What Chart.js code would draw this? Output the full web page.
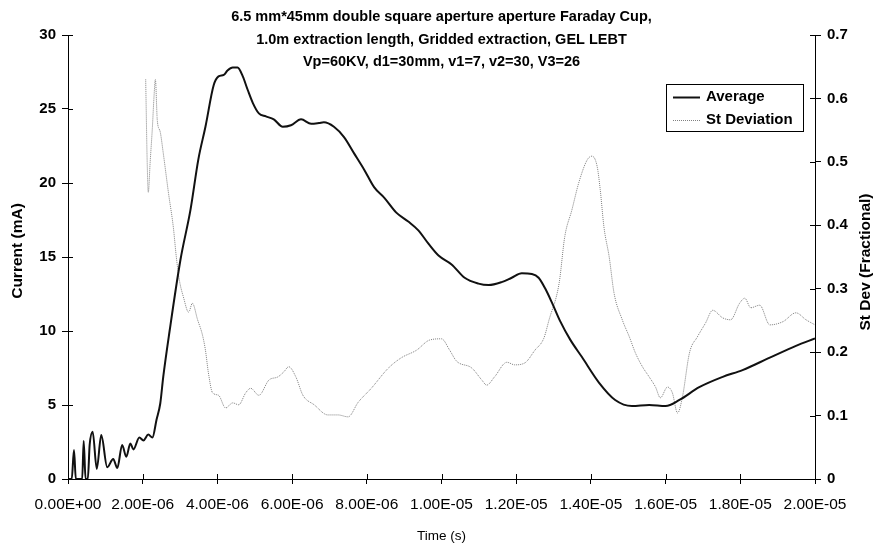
<!DOCTYPE html>
<html>
<head>
<meta charset="utf-8">
<title>Faraday Cup current</title>
<script src="https://cdn.jsdelivr.net/npm/chart.js@4.4.1/dist/chart.umd.min.js"></script>
<style>
  html, body { margin: 0; padding: 0; background: #ffffff; }
  #wrap { width: 875px; height: 544px; }
</style>
</head>
<body>
<div id="wrap"><canvas id="c" width="875" height="544"></canvas></div>
<script>
// Average current trace: time in microseconds, current in mA
const avgTimeUs = [
  0.00, 0.10, 0.16, 0.21, 0.38, 0.42, 0.47, 0.53, 0.58, 0.66, 0.77, 0.89,
  1.05, 1.21, 1.32, 1.45, 1.56, 1.67, 1.75, 1.91, 2.02, 2.15, 2.26, 2.37,
  2.47, 2.55, 2.72, 3.01, 3.28, 3.49, 3.68, 3.90, 4.03, 4.17, 4.27, 4.41,
  4.54, 4.68, 4.81, 4.95, 5.11, 5.30, 5.51, 5.75, 5.97, 6.24, 6.51, 6.72,
  6.85, 7.12, 7.39, 7.66, 7.93, 8.20, 8.47, 8.79, 9.11, 9.38, 9.65, 9.92,
  10.27, 10.62, 10.99, 11.26, 11.61, 11.88, 12.15, 12.42, 12.60, 12.77, 12.96, 13.17,
  13.45, 13.76, 14.22, 14.65, 15.10, 15.56, 16.00, 16.37, 16.90, 17.53, 18.06, 18.79,
  19.49, 20.00
];
const avgCurrent = [
  0, 0, 1.96, 0, 0, 2.57, 0, 0, 2.3, 3.2, 0.68, 2.97,
  0.8, 1.35, 0.74, 2.3, 1.5, 2.4, 2.0, 2.8, 2.6, 3.0, 2.8, 4.0,
  5.1, 6.9, 10.0, 14.8, 18.2, 21.6, 23.8, 26.6, 27.2, 27.3, 27.6, 27.8,
  27.8, 27.2, 26.3, 25.4, 24.7, 24.5, 24.3, 23.8, 23.9, 24.3, 24.0, 24.05,
  24.1, 23.8, 23.1, 22.0, 20.9, 19.7, 19.0, 18.0, 17.4, 16.8, 15.9, 15.1,
  14.5, 13.6, 13.2, 13.1, 13.3, 13.6, 13.9, 13.85, 13.6, 12.9, 11.9, 10.7,
  9.4, 8.24, 6.5, 5.34, 4.93, 5.0, 4.93, 5.34, 6.2, 6.9, 7.36, 8.2,
  9.0, 9.5
];

// Fractional standard deviation trace: time in microseconds
const sdTimeUs = [
  2.08, 2.12, 2.15, 2.20, 2.26, 2.30, 2.34, 2.39, 2.47, 2.55, 2.69, 2.82,
  2.90, 2.98, 3.09, 3.23, 3.33, 3.47, 3.60, 3.68, 3.76, 3.87, 4.03, 4.22,
  4.41, 4.57, 4.76, 4.89, 5.11, 5.38, 5.62, 5.78, 5.91, 6.10, 6.29, 6.59,
  6.96, 7.23, 7.50, 7.77, 8.12, 8.58, 8.92, 9.33, 9.68, 10.00, 10.22, 10.40,
  10.81, 11.08, 11.21, 11.42, 11.75, 11.96, 12.23, 12.50, 12.74, 12.88, 13.15, 13.30,
  13.49, 13.68, 13.90, 14.03, 14.17, 14.25, 14.35, 14.49, 14.62, 14.84, 15.03, 15.19,
  15.38, 15.56, 15.73, 15.86, 16.05, 16.18, 16.32, 16.45, 16.64, 16.85, 17.07, 17.26,
  17.53, 17.74, 17.98, 18.12, 18.28, 18.52, 18.79, 19.14, 19.49, 19.76, 20.00
];
const sdFraction = [
  0.63, 0.50, 0.452, 0.50, 0.555, 0.60, 0.63, 0.566, 0.547, 0.514, 0.451, 0.397,
  0.35, 0.314, 0.287, 0.263, 0.277, 0.251, 0.227, 0.203, 0.167, 0.136, 0.132, 0.112,
  0.12, 0.117, 0.136, 0.143, 0.132, 0.156, 0.161, 0.169, 0.177, 0.161, 0.132, 0.117,
  0.101, 0.101, 0.098, 0.121, 0.143, 0.175, 0.191, 0.203, 0.219, 0.221, 0.203, 0.186,
  0.175, 0.156, 0.148, 0.161, 0.184, 0.18, 0.183, 0.203, 0.222, 0.251, 0.309, 0.382,
  0.424, 0.468, 0.503, 0.509, 0.492, 0.456, 0.397, 0.35, 0.293, 0.251, 0.224, 0.199,
  0.177, 0.161, 0.145, 0.128, 0.145, 0.136, 0.104, 0.129, 0.199, 0.224, 0.246, 0.266,
  0.254, 0.251, 0.277, 0.285, 0.27, 0.274, 0.243, 0.248, 0.262, 0.251, 0.243
];

// Axis tick values
const timeTicks = [0, 2e-6, 4e-6, 6e-6, 8e-6, 1e-5, 1.2e-5, 1.4e-5, 1.6e-5, 1.8e-5, 2e-5];
const currentTicks = [0, 5, 10, 15, 20, 25, 30];
const sdTicks = [0, 0.1, 0.2, 0.3, 0.4, 0.5, 0.6, 0.7];

const titleLines = [
  '6.5 mm*45mm double square aperture aperture Faraday Cup,',
  '1.0m extraction length, Gridded extraction, GEL LEBT',
  'Vp=60KV, d1=30mm, v1=7, v2=30, V3=26'
];
const leftAxisTitle = 'Current (mA)';
const rightAxisTitle = 'St Dev (Fractional)';

const FONT = '"Liberation Sans", Arial, Helvetica, sans-serif';

function sciLabel(v) {
  const s = Number(v).toExponential(2);
  const parts = s.split('e');
  const sign = parts[1][0] === '-' ? '-' : '+';
  const digits = parts[1].replace(/[+-]/, '').padStart(2, '0');
  return parts[0] + 'E' + sign + digits;
}

function toPoints(tUs, vals) {
  return tUs.map((t, i) => ({ x: t * 1e-6, y: vals[i] }));
}

// Title over the top of the plot, vertical axis titles, crossing tick marks and the legend box
const decorPlugin = {
  id: 'decor',
  afterDraw(chart) {
    const ctx = chart.ctx;
    const area = chart.chartArea;
    ctx.save();

    // title
    ctx.fillStyle = '#000';
    ctx.font = 'bold 14.5px ' + FONT;
    ctx.textAlign = 'center';
    ctx.textBaseline = 'middle';
    const cx = (area.left + area.right) / 2;
    titleLines.forEach((line, i) => ctx.fillText(line, cx, 17 + i * 22.5));

    // vertical axis titles, both reading upwards
    ctx.font = 'bold 15.5px ' + FONT;
    [[leftAxisTitle, 18, 251], [rightAxisTitle, 866, 262]].forEach(([txt, x, y]) => {
      ctx.save();
      ctx.translate(x, y);
      ctx.rotate(-Math.PI / 2);
      ctx.fillText(txt, 0, 0);
      ctx.restore();
    });

    // inner halves of the tick marks
    ctx.strokeStyle = '#000';
    ctx.lineWidth = 1;
    ctx.beginPath();
    const ys = chart.scales.y, ys1 = chart.scales.y1, xs = chart.scales.x;
    ys.ticks.forEach(t => {
      const p = Math.round(ys.getPixelForValue(t.value)) + 0.5;
      ctx.moveTo(area.left, p); ctx.lineTo(area.left + 5, p);
    });
    ys1.ticks.forEach(t => {
      const p = Math.round(ys1.getPixelForValue(t.value)) + 0.5;
      ctx.moveTo(area.right, p); ctx.lineTo(area.right - 5, p);
    });
    xs.ticks.forEach(t => {
      const p = Math.round(xs.getPixelForValue(t.value)) + 0.5;
      ctx.moveTo(p, area.bottom); ctx.lineTo(p, area.bottom - 5);
    });
    ctx.stroke();

    // legend
    const lx = 666, ly = 84, lw = 137, lh = 47;
    ctx.fillStyle = '#fff';
    ctx.fillRect(lx, ly, lw, lh);
    ctx.strokeStyle = '#000';
    ctx.lineWidth = 1;
    ctx.strokeRect(lx + 0.5, ly + 0.5, lw, lh);
    ctx.font = 'bold 15px ' + FONT;
    ctx.textAlign = 'left';
    ctx.textBaseline = 'middle';
    chart.data.datasets.forEach((ds, i) => {
      const yy = ly + 13 + i * 23;
      ctx.save();
      ctx.strokeStyle = ds.borderColor;
      ctx.lineWidth = ds.borderWidth;
      ctx.setLineDash(ds.borderDash || []);
      ctx.beginPath();
      ctx.moveTo(lx + 7, yy + 0.5);
      ctx.lineTo(lx + 34, yy + 0.5);
      ctx.stroke();
      ctx.restore();
      ctx.fillStyle = '#000';
      ctx.fillText(ds.label, lx + 40, yy);
    });

    ctx.restore();
  }
};

const whiteBg = {
  id: 'whiteBg',
  beforeDraw(chart) {
    const ctx = chart.ctx;
    ctx.save();
    ctx.fillStyle = '#fff';
    ctx.fillRect(0, 0, chart.width, chart.height);
    ctx.restore();
  }
};

new Chart(document.getElementById('c'), {
  type: 'line',
  data: {
    datasets: [
      {
        label: 'Average',
        data: toPoints(avgTimeUs, avgCurrent),
        yAxisID: 'y',
        borderColor: '#111111',
        borderWidth: 2,
        pointRadius: 0,
        cubicInterpolationMode: 'monotone',
        fill: false
      },
      {
        label: 'St Deviation',
        data: toPoints(sdTimeUs, sdFraction),
        yAxisID: 'y1',
        borderColor: '#808080',
        borderWidth: 1,
        borderDash: [1, 1],
        pointRadius: 0,
        cubicInterpolationMode: 'monotone',
        fill: false
      }
    ]
  },
  options: {
    responsive: false,
    animation: false,
    layout: { padding: { top: 35, left: 0, right: 0, bottom: 0 } },
    plugins: {
      legend: { display: false },
      title: { display: false },
      tooltip: { enabled: false }
    },
    scales: {
      x: {
        type: 'linear',
        min: 0,
        max: 2e-5,
        afterBuildTicks(scale) { scale.ticks = timeTicks.map(v => ({ value: v })); },
        afterFit(scale) { scale.height = 65; },
        border: { display: true, color: '#000', width: 1 },
        grid: { display: true, drawOnChartArea: false, drawTicks: true, tickLength: 5, color: '#000' },
        ticks: {
          color: '#000',
          font: { family: FONT, size: 15.5 },
          padding: 11,
          maxRotation: 0,
          autoSkip: false,
          callback: v => sciLabel(v)
        },
        title: {
          display: true,
          text: 'Time (s)',
          color: '#000',
          font: { family: FONT, size: 13.5 },
          padding: { top: 8, bottom: 0 }
        }
      },
      y: {
        type: 'linear',
        position: 'left',
        min: 0,
        max: 30,
        afterBuildTicks(scale) { scale.ticks = currentTicks.map(v => ({ value: v })); },
        afterFit(scale) { scale.width = 68; },
        border: { display: true, color: '#000', width: 1 },
        grid: { display: true, drawOnChartArea: false, drawTicks: true, tickLength: 6, color: '#000' },
        ticks: {
          color: '#000',
          font: { family: FONT, size: 15, weight: 'bold' },
          padding: 6
        }
      },
      y1: {
        type: 'linear',
        position: 'right',
        min: 0,
        max: 0.7,
        afterBuildTicks(scale) { scale.ticks = sdTicks.map(v => ({ value: v })); },
        afterFit(scale) { scale.width = 60; },
        border: { display: true, color: '#000', width: 1 },
        grid: { display: true, drawOnChartArea: false, drawTicks: true, tickLength: 6, color: '#000' },
        ticks: {
          color: '#000',
          font: { family: FONT, size: 15, weight: 'bold' },
          padding: 6,
          callback: v => String(Number(v.toFixed(1)))
        }
      }
    }
  },
  plugins: [whiteBg, decorPlugin]
});
</script>
</body>
</html>
